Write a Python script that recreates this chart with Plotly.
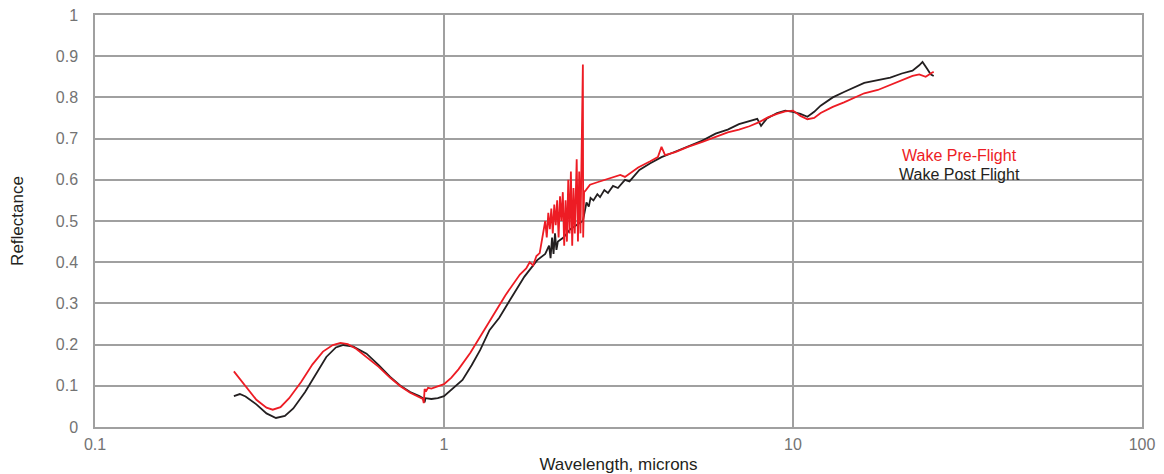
import plotly.graph_objects as go

# Wake Pre-Flight (red)
pre_wl = [0.25, 0.27, 0.29, 0.31, 0.323, 0.34, 0.36, 0.39, 0.42, 0.45, 0.48, 0.505, 0.53, 0.56, 0.60,
          0.65, 0.70, 0.75, 0.80, 0.85, 0.87, 0.875, 0.88, 0.89, 0.90, 0.92, 0.95, 1.0, 1.05, 1.10,
          1.19, 1.30, 1.37, 1.50, 1.65, 1.72, 1.76, 1.80, 1.84, 1.88, 1.92, 1.95, 1.97, 1.99, 2.01,
          2.03, 2.05, 2.07, 2.09, 2.11, 2.13, 2.15, 2.17, 2.19, 2.21, 2.23, 2.25, 2.27, 2.29, 2.31,
          2.33, 2.35, 2.37, 2.40, 2.42, 2.44, 2.46, 2.48, 2.50, 2.505, 2.52, 2.55, 2.62, 2.75, 2.85,
          3.0, 3.2, 3.3, 3.6, 3.9, 4.1, 4.2, 4.3, 4.6, 5.0, 5.5, 6.0, 6.5, 7.0, 7.5, 8.0, 8.5, 9.0, 9.5, 10.0,
          10.5, 11.0, 11.5, 12.0, 13.0, 14.0, 15.0, 16.0, 17.5, 19.0, 20.5, 22.0, 23.0, 24.0, 25.0, 25.3]
pre_r = [0.135, 0.098, 0.066, 0.047, 0.042, 0.048, 0.070, 0.110, 0.152, 0.183, 0.199, 0.204, 0.201, 0.190, 0.170,
         0.146, 0.120, 0.099, 0.083, 0.072, 0.068, 0.058, 0.092, 0.088, 0.095, 0.093, 0.097, 0.104, 0.120, 0.140,
         0.180, 0.235, 0.265, 0.320, 0.370, 0.385, 0.400, 0.392, 0.415, 0.422, 0.47, 0.50, 0.46, 0.52, 0.48,
         0.53, 0.47, 0.54, 0.49, 0.55, 0.46, 0.56, 0.50, 0.57, 0.44, 0.55, 0.45, 0.60, 0.47, 0.62,
         0.44, 0.58, 0.47, 0.65, 0.45, 0.62, 0.47, 0.66, 0.88, 0.46, 0.57, 0.575, 0.588, 0.594, 0.598,
         0.605, 0.612, 0.607, 0.630, 0.645, 0.655, 0.680, 0.660, 0.667, 0.680, 0.692, 0.704, 0.715, 0.722, 0.730, 0.740, 0.752, 0.760, 0.766, 0.768,
         0.755, 0.747, 0.750, 0.762, 0.777, 0.788, 0.800, 0.810, 0.818, 0.830, 0.840, 0.852, 0.856, 0.850, 0.860, 0.862]

# Wake Post Flight (black)
post_wl = [0.25, 0.26, 0.27, 0.29, 0.31, 0.33, 0.35, 0.37, 0.40, 0.43, 0.46, 0.49, 0.515, 0.55, 0.60,
           0.65, 0.70, 0.75, 0.80, 0.85, 0.87, 0.88, 0.885, 0.92, 0.96, 1.0, 1.05, 1.13, 1.20, 1.27,
           1.35, 1.44, 1.55, 1.70, 1.85, 1.95, 2.00, 2.02, 2.04, 2.06, 2.08, 2.10, 2.12, 2.20, 2.30,
           2.40, 2.50, 2.53, 2.56, 2.60, 2.63, 2.68, 2.75, 2.80, 2.88, 2.95, 3.05, 3.15, 3.3, 3.4,
           3.63, 3.9, 4.2, 4.5, 5.0, 5.5, 6.0,
           6.5, 7.0, 7.5, 7.9, 8.1, 8.4, 9.0, 9.5, 10.0, 10.5, 11.0, 11.5, 12.0, 13.0, 14.0,
           15.0, 16.0, 17.5, 19.0, 20.5, 22.0, 23.0, 23.5, 24.2, 24.8, 25.3]
post_r = [0.075, 0.080, 0.074, 0.055, 0.033, 0.022, 0.027, 0.045, 0.085, 0.130, 0.170, 0.193, 0.199, 0.195, 0.178,
          0.150, 0.122, 0.100, 0.085, 0.075, 0.070, 0.060, 0.070, 0.068, 0.070, 0.075, 0.090, 0.114, 0.150, 0.187,
          0.235, 0.265, 0.310, 0.365, 0.405, 0.420, 0.440, 0.410, 0.460, 0.420, 0.470, 0.430, 0.450, 0.460, 0.480,
          0.490, 0.500, 0.522, 0.545, 0.535, 0.556, 0.550, 0.565, 0.558, 0.575, 0.568, 0.585, 0.580, 0.600, 0.596,
          0.624, 0.640, 0.655, 0.665, 0.680, 0.695, 0.712,
          0.722, 0.735, 0.743, 0.748, 0.731, 0.748, 0.762, 0.768, 0.765, 0.760, 0.753, 0.765, 0.780, 0.800, 0.813,
          0.825, 0.835, 0.842, 0.848, 0.858, 0.865, 0.878, 0.886, 0.870, 0.856, 0.852]

x_ticks = [0.1, 1, 10, 100]
x_tick_text = ["0.1", "1", "10", "100"]
y_ticks = [0, 0.1, 0.2, 0.3, 0.4, 0.5, 0.6, 0.7, 0.8, 0.9, 1]
y_tick_text = ["0", "0.1", "0.2", "0.3", "0.4", "0.5", "0.6", "0.7", "0.8", "0.9", "1"]

RED = "#ED1C24"
BLACK = "#231F20"
GRID = "#A0A0A0"
TICK = "#737373"
FONT = "Liberation Sans, Arial, sans-serif"

fig = go.Figure()
fig.add_trace(go.Scatter(x=post_wl, y=post_r, mode="lines", name="Wake Post Flight",
                         line=dict(color=BLACK, width=1.8)))
fig.add_trace(go.Scatter(x=pre_wl, y=pre_r, mode="lines", name="Wake Pre-Flight",
                         line=dict(color=RED, width=1.8)))

# page body has an 8px margin, so the figure is sized to fill the rest of the window
fig.update_layout(
    width=1156, height=466,
    margin=dict(l=87, r=22, t=7, b=47),
    paper_bgcolor="white", plot_bgcolor="white",
    showlegend=False,
    font=dict(family=FONT, size=16, color=TICK),
    annotations=[
        dict(text="Wake Pre-Flight", x=0.826, y=0.660, xref="paper", yref="paper",
             xanchor="center", yanchor="middle",
             showarrow=False, font=dict(color=RED, size=16, family=FONT)),
        dict(text="Wake Post Flight", x=0.826, y=0.613, xref="paper", yref="paper",
             xanchor="center", yanchor="middle",
             showarrow=False, font=dict(color=BLACK, size=16, family=FONT)),
    ],
)
fig.update_xaxes(type="log", range=[-1, 2], tickvals=x_ticks, ticktext=x_tick_text,
                 showgrid=True, gridcolor=GRID, gridwidth=1.5, showline=True, linecolor=GRID,
                 linewidth=1.5, mirror=True, ticks="outside", ticklen=2,
                 tickcolor="rgba(0,0,0,0)", zeroline=False, automargin=False,
                 ticklabeloverflow="allow",
                 tickfont=dict(size=16, color=TICK, family=FONT),
                 title=dict(text="Wavelength, microns", standoff=10,
                            font=dict(size=17, color=BLACK, family=FONT)))
fig.update_yaxes(range=[0, 1], tickvals=y_ticks, ticktext=y_tick_text,
                 showgrid=True, gridcolor=GRID, gridwidth=1.5, showline=True, linecolor=GRID,
                 linewidth=1.5, mirror=True, ticks="outside", ticklen=12, tickcolor="rgba(0,0,0,0)",
                 zeroline=False, automargin=False, ticklabeloverflow="allow",
                 tickfont=dict(size=16, color=TICK, family=FONT),
                 title=dict(text="Reflectance", standoff=30,
                            font=dict(size=17, color=BLACK, family=FONT)))

fig.write_html("out.html")
